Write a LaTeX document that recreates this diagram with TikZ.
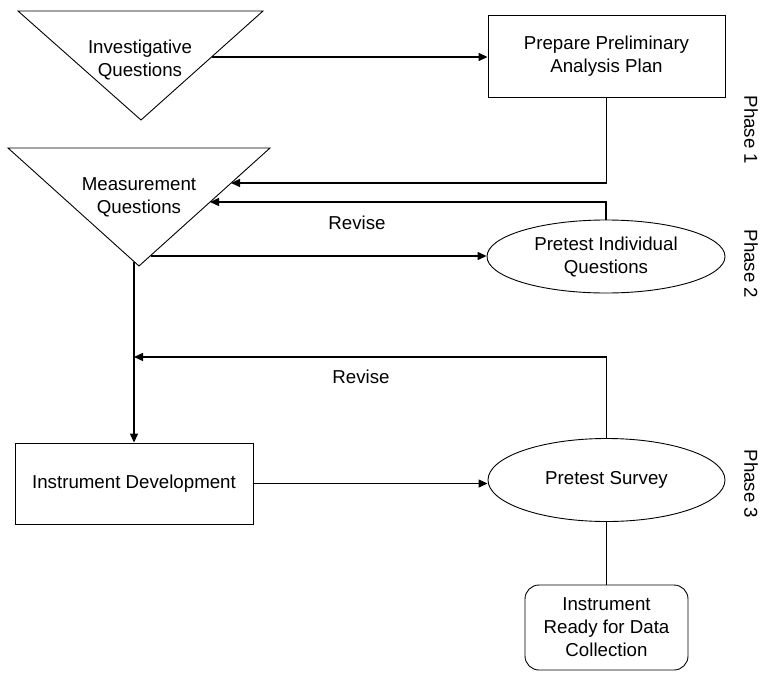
\documentclass[tikz,border=0pt]{standalone}
\usepackage{fontspec}
\setmainfont{Liberation Sans}
\usetikzlibrary{arrows.meta,shapes.geometric,calc}

\begin{document}
\begin{tikzpicture}[x=1pt,y=-1pt,
  font=\fontsize{18.7}{23}\selectfont,
  shapeline/.style={draw=black,line width=0.9pt},
  boxnode/.style={shapeline,rectangle,inner sep=0pt},
  ovalnode/.style={shapeline,ellipse,inner sep=0pt},
  txt/.style={align=center,inner sep=0pt},
  link/.style={draw=black,line width=1.4pt},
  arr/.style={link,-{Triangle[length=9pt,width=8pt]}},
  phase/.style={rotate=-90,inner sep=0pt}]

\useasboundingbox (0,0) rectangle (771,672);

% inverted triangles for the two question sets
\coordinate (t1a) at (18,11);
\coordinate (t1b) at (263,11);
\coordinate (t1c) at (141,120);
\draw[shapeline] (t1a) -- (t1b) -- (t1c) -- cycle;
\node[txt] (invq) at (140,60) {Investigative\\Questions};

\coordinate (t2a) at (8,148);
\coordinate (t2b) at (270,148);
\coordinate (t2c) at (139,266);
\draw[shapeline] (t2a) -- (t2b) -- (t2c) -- cycle;
\node[txt] (measq) at (139,197) {Measurement\\Questions};

% points on the triangle edges where connectors meet
\coordinate (t1out) at (211.5,57);
\coordinate (t2in1) at (231,183);
\coordinate (t2in2) at (210,202);
\coordinate (t2out) at (151,256);
\coordinate (t2down) at (134,261.5);

% process steps
\node[boxnode,minimum width=237pt,minimum height=82pt,align=center] (plan) at (606.5,56) {Prepare Preliminary\\Analysis Plan};
\node[ovalnode,minimum width=238pt,minimum height=73pt,align=center] (pind) at (606,256.5) {Pretest Individual\\Questions};
\node[boxnode,minimum width=238pt,minimum height=81pt] (instdev) at (134,483.5) {Instrument Development};
\node[ovalnode,minimum width=237pt,minimum height=83pt] (psurv) at (606.5,480) {Pretest Survey};
\node[boxnode,rounded corners=14pt,minimum width=163pt,minimum height=85pt,align=center] (ready) at (606.5,627.5) {Instrument\\Ready for Data\\Collection};

% phase labels
\node[phase] (ph1) at (751,130) {Phase 1};
\node[phase] (ph2) at (751,264) {Phase 2};
\node[phase] (ph3) at (751,484) {Phase 3};

% connectors
\draw[arr] (t1out) -- (t1out -| plan.west);
\draw[arr] (plan.south) |- (t2in1);
\draw[arr] (pind.north) |- (t2in2);
\node[txt] (rev1) at (357,223) {Revise};
\draw[arr] (t2out) -- (t2out -| pind.west);
\draw[arr] (t2down) -- (instdev.north);
\coordinate (join) at (134,357);
\draw[arr] (psurv.north) |- (join);
\node[txt] (rev2) at (361,377) {Revise};
\draw[arr] (instdev.east) -- (instdev.east -| psurv.west);
\draw[link] (psurv.south) -- (ready.north);

\end{tikzpicture}
\end{document}
